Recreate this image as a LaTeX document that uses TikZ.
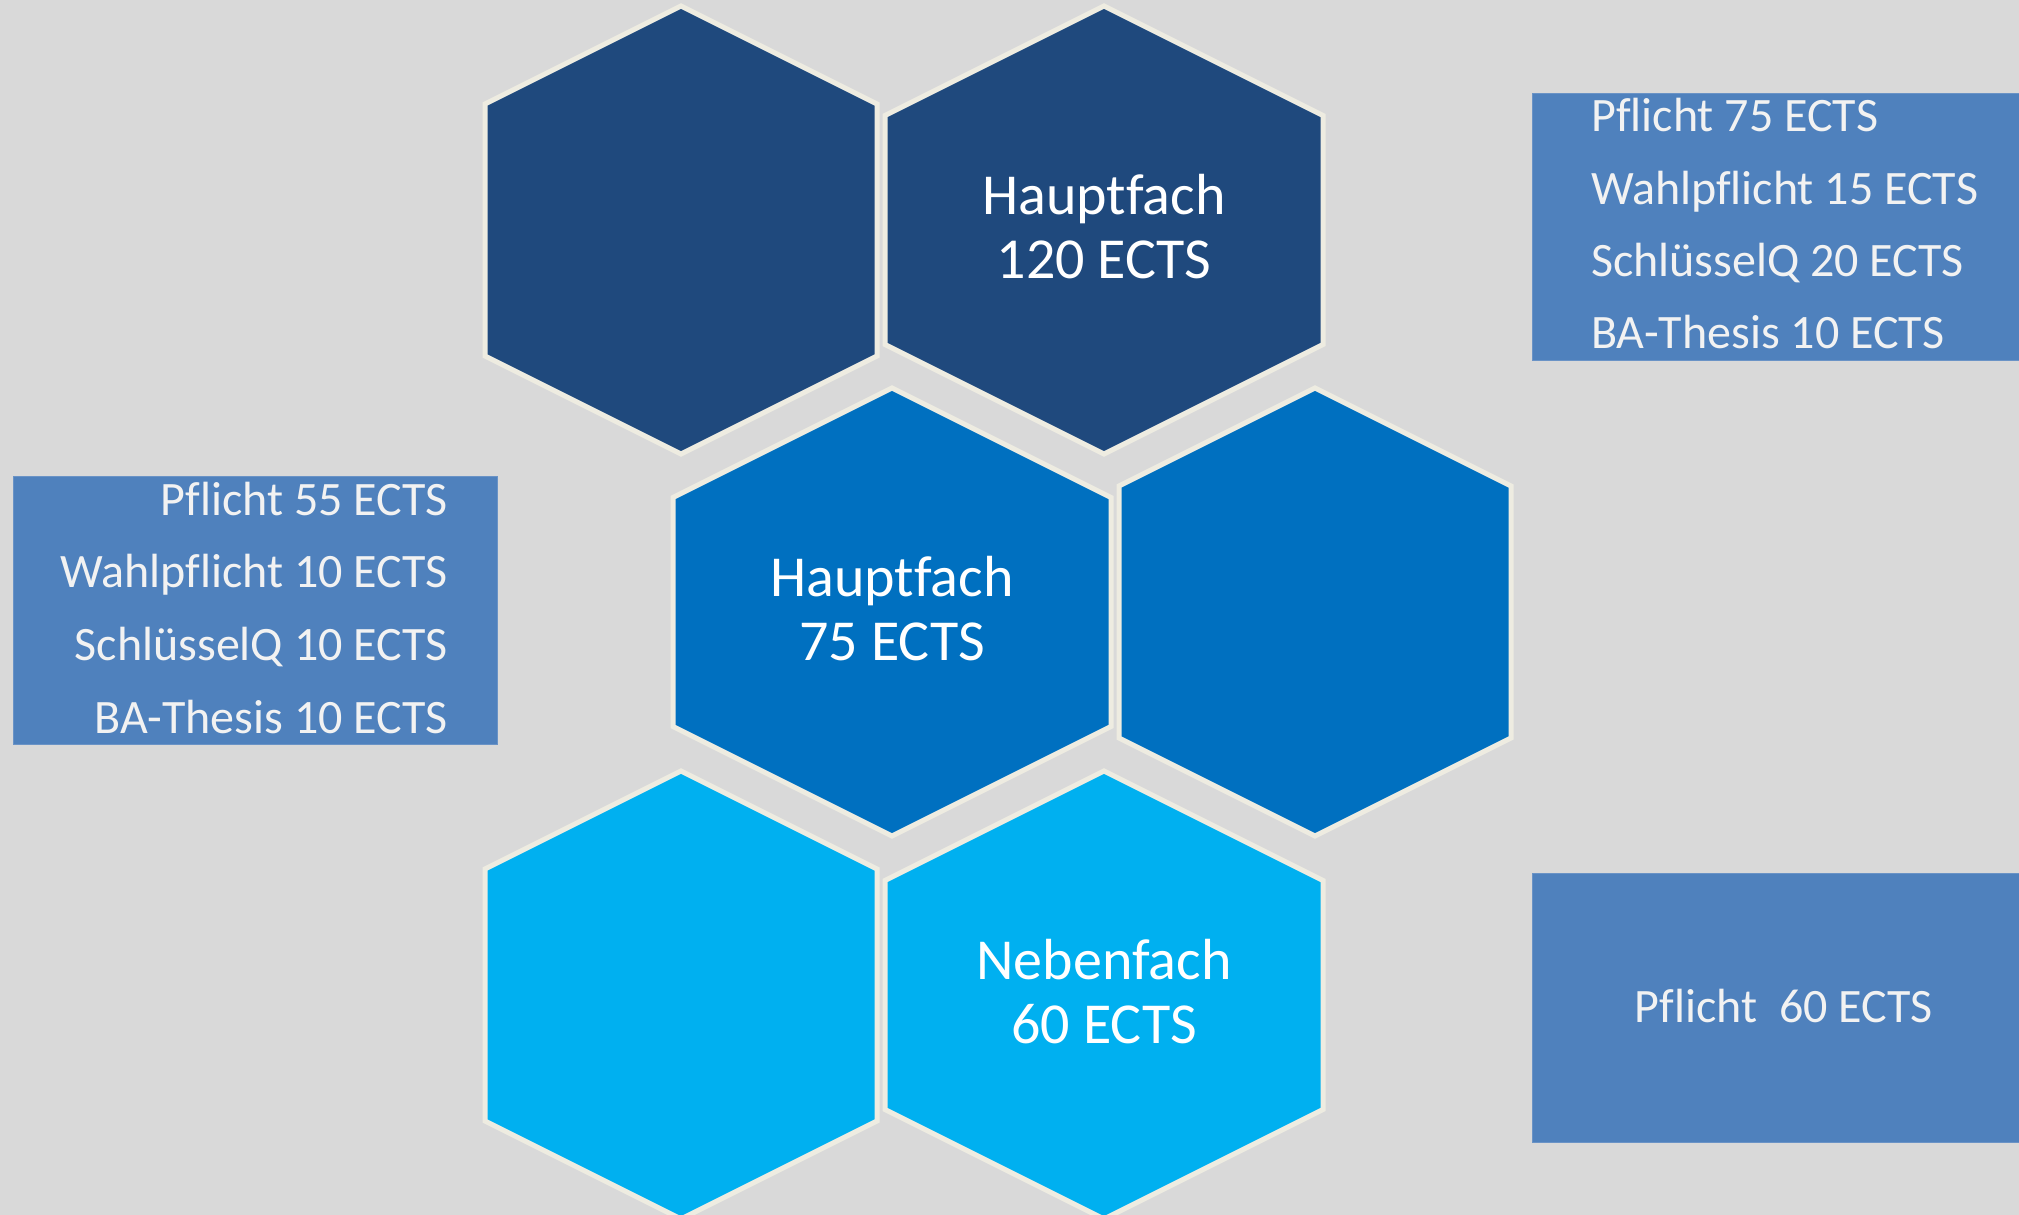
\documentclass[tikz,border=0pt]{standalone}
\usepackage{fontspec}
\setmainfont{Carlito}[Ligatures=NoCommon]
\usetikzlibrary{positioning}
\definecolor{hintergrund}{HTML}{D9D9D9}
\definecolor{rahmen}{HTML}{EEECE1}
\definecolor{hexdunkel}{HTML}{1F497D}
\definecolor{hexmittel}{HTML}{0070C0}
\definecolor{hexhell}{HTML}{00B0F0}
\definecolor{kastenblau}{HTML}{4F81BD}
\definecolor{kastenrand}{HTML}{6A93C6}
\definecolor{kastentext}{HTML}{F2F2F2}

\begin{document}
\begin{tikzpicture}[x=0.5pt, y=-0.5pt,
    wabe/.style={draw=rahmen, line width=2.5pt, line join=miter},
    kasten/.style={fill=kastenblau, draw=kastenrand, line width=0.5pt, inner sep=0pt, anchor=north west},
    zeile/.style={text=kastentext, inner sep=0pt, font=\fontsize{24}{29}\selectfont},
    wabentext/.style={text=white, align=center, inner sep=0pt, yshift=1.5pt, font=\fontsize{29}{32}\selectfont}]
        \useasboundingbox (0,0) rectangle (2019,1215);
        \clip (0,0) rectangle (2019,1215);
        \fill[hintergrund] (0,0) rectangle (2019,1215);
        % Waben: Name/Mitte x/Mitte y/Breite/Farbe
        \foreach \nm/\cx/\cy/\w/\farbe in {h1/681/230/392/hexdunkel, h2/1104/230/438/hexdunkel,
                                            h3/892/612/438/hexmittel, h4/1315/612/392/hexmittel,
                                            h5/681/995/392/hexhell, h6/1104/995/438/hexhell} {
           \draw[wabe, fill=\farbe] (\cx,\cy-224) -- (\cx+\w/2,\cy-224+\w/4)
              -- (\cx+\w/2,\cy+224-\w/4) -- (\cx,\cy+224)
              -- (\cx-\w/2,\cy+224-\w/4) -- (\cx-\w/2,\cy-224+\w/4) -- cycle;
           \coordinate (\nm) at (\cx,\cy);
        }
        \node[wabentext] (haupt120) at (h2) {Hauptfach\\120 ECTS};
        \node[wabentext] (haupt75) at (h3) {Hauptfach\\75 ECTS};
        \node[wabentext] (neben60) at (h6) {Nebenfach\\60 ECTS};
        % Kaesten
        \node[kasten, minimum width=254pt, minimum height=133.65pt] (kastenOben) at (1532.3,92.7) {};
        \node[kasten, minimum width=242pt, minimum height=134.15pt] (kastenLinks) at (12.7,476) {};
        \node[kasten, minimum width=254pt, minimum height=134.2pt] (kastenUnten) at (1532.3,873.3) {};
        \foreach \zl [count=\i] in {Pflicht 75 ECTS, Wahlpflicht 15 ECTS, SchlüsselQ 20 ECTS, BA-Thesis 10 ECTS} {
           \node[zeile, anchor=base west] (oben\i) at (1590.7,131.7+72.4*\i-72.4) {\zl};
        }
        \foreach \zl [count=\i] in {Pflicht 55 ECTS, Wahlpflicht 10 ECTS, SchlüsselQ 10 ECTS, BA-Thesis 10 ECTS} {
           \node[zeile, anchor=base east] (links\i) at (448,515+72.8*\i-72.8) {\zl};
        }
        \node[zeile, anchor=base] (pflicht60) at (1783.7,1022.7) {Pflicht\ \ 60 ECTS};
      \end{tikzpicture}
\end{document}
